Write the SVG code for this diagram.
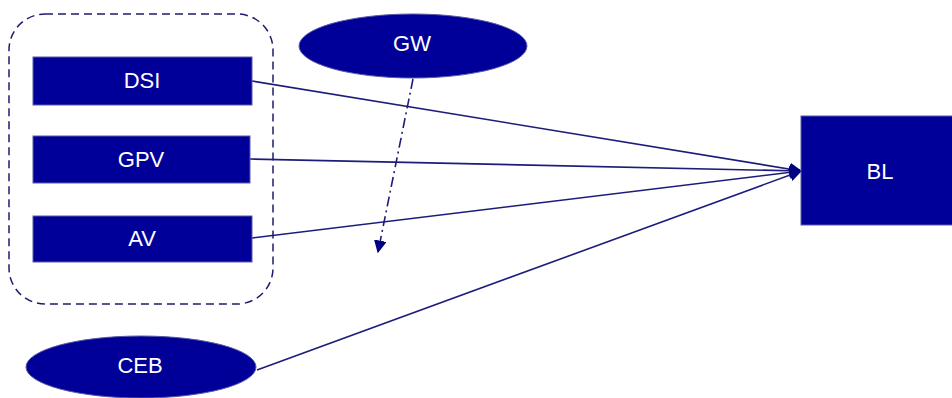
<svg xmlns="http://www.w3.org/2000/svg" width="952" height="398" viewBox="0 0 952 398">
  <defs>
    <style>
      .box { fill: #000099; stroke: #5a5aa8; stroke-width: 1; }
      .lbl { fill: #ffffff; font-family: "Liberation Sans", Arial, sans-serif; font-size: 22px; text-anchor: middle; dominant-baseline: central; }
      .edge { stroke: #1c1c7a; stroke-width: 1.6; fill: none; }
      .grp { fill: none; stroke: #1c1c6e; stroke-width: 1.5; stroke-dasharray: 8 5; }
    </style>
    <marker id="head" viewBox="0 0 10 10" refX="9" refY="5" markerWidth="8" markerHeight="8" orient="auto" markerUnits="strokeWidth">
      <path d="M0,0 L10,5 L0,10 z" fill="#000080"/>
    </marker>
  </defs>

  <rect class="grp" x="9" y="14" width="264" height="290" rx="36" ry="36"/>

  <g id="connectors">
    <line class="edge" x1="252" y1="81" x2="801" y2="171" marker-end="url(#head)"/>
    <line class="edge" x1="250" y1="159" x2="801" y2="171" marker-end="url(#head)"/>
    <line class="edge" x1="252" y1="238" x2="801" y2="171" marker-end="url(#head)"/>
    <line class="edge" x1="257" y1="370" x2="801" y2="171" marker-end="url(#head)"/>
    <line class="edge" x1="413" y1="79" x2="378" y2="252" stroke-dasharray="10 4 2 4" marker-end="url(#head)"/>
  </g>

  <g id="DSI">
    <rect class="box" x="33" y="57" width="219" height="48"/>
    <text class="lbl" x="142" y="80">DSI</text>
  </g>
  <g id="GPV">
    <rect class="box" x="33" y="136" width="217" height="47"/>
    <text class="lbl" x="141" y="159">GPV</text>
  </g>
  <g id="AV">
    <rect class="box" x="33" y="216" width="219" height="46"/>
    <text class="lbl" x="142" y="238">AV</text>
  </g>
  <g id="GW">
    <ellipse class="box" cx="413" cy="46" rx="114" ry="32" stroke="none"/>
    <text class="lbl" x="412" y="43">GW</text>
  </g>
  <g id="CEB">
    <ellipse class="box" cx="141" cy="367" rx="115" ry="31"/>
    <text class="lbl" x="140" y="365">CEB</text>
  </g>
  <g id="BL">
    <rect class="box" x="801" y="116" width="160" height="109"/>
    <text class="lbl" x="880" y="171">BL</text>
  </g>
</svg>
